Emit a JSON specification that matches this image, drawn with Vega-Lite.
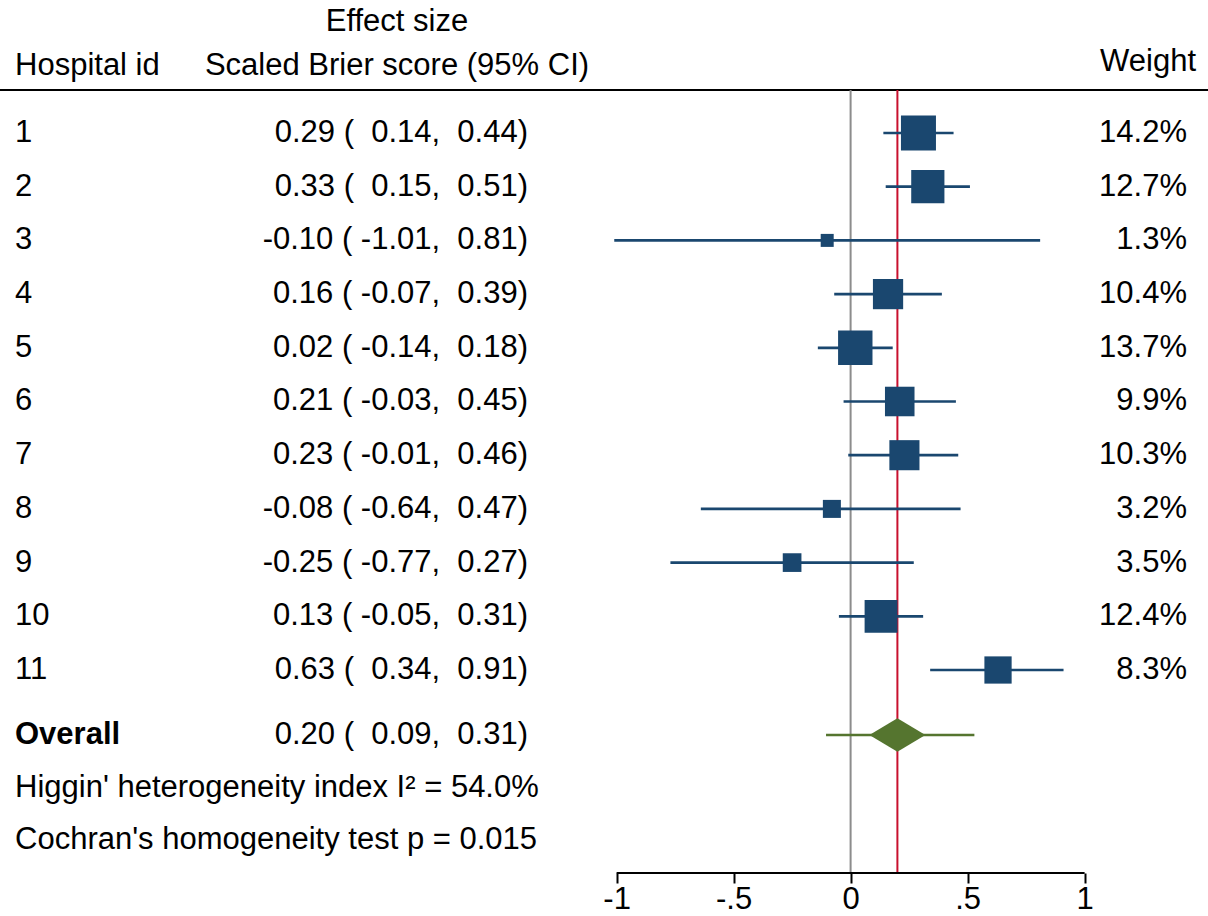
{
  "$schema": "https://vega.github.io/schema/vega-lite/v6.json",
  "autosize": {"type": "none"},
  "padding": {"left": 0, "right": 0, "top": 0, "bottom": 43},
  "width": 1208,
  "height": 873,
  "background": "white",
  "config": {
    "view": {"stroke": null},
    "font": "Liberation Sans",
    "text": {"font": "Liberation Sans", "fontSize": 31, "color": "black", "baseline": "middle"},
    "axisX": {
      "domain": false,
      "grid": false,
      "ticks": true,
      "tickColor": "black",
      "tickSize": 10,
      "tickWidth": 2,
      "labelFont": "Liberation Sans",
      "labelFontSize": 31,
      "labelColor": "black",
      "labelPadding": 1,
      "labelExpr": "datum.value == 0 ? '0' : datum.value == 1 ? '1' : datum.value == -1 ? '-1' : datum.value == 0.5 ? '.5' : '-.5'"
    }
  },
  "datasets": {
    "hospitals": [
      {"id": 1, "est": 0.29, "lo": 0.14, "hi": 0.44, "weight": 14.2, "ci": "0.29 (\u00a0 0.14,\u00a0 0.44)", "wlabel": "14.2%"},
      {"id": 2, "est": 0.33, "lo": 0.15, "hi": 0.51, "weight": 12.7, "ci": "0.33 (\u00a0 0.15,\u00a0 0.51)", "wlabel": "12.7%"},
      {"id": 3, "est": -0.10, "lo": -1.01, "hi": 0.81, "weight": 1.3, "ci": "-0.10 ( -1.01,\u00a0 0.81)", "wlabel": "1.3%"},
      {"id": 4, "est": 0.16, "lo": -0.07, "hi": 0.39, "weight": 10.4, "ci": "0.16 ( -0.07,\u00a0 0.39)", "wlabel": "10.4%"},
      {"id": 5, "est": 0.02, "lo": -0.14, "hi": 0.18, "weight": 13.7, "ci": "0.02 ( -0.14,\u00a0 0.18)", "wlabel": "13.7%"},
      {"id": 6, "est": 0.21, "lo": -0.03, "hi": 0.45, "weight": 9.9, "ci": "0.21 ( -0.03,\u00a0 0.45)", "wlabel": "9.9%"},
      {"id": 7, "est": 0.23, "lo": -0.01, "hi": 0.46, "weight": 10.3, "ci": "0.23 ( -0.01,\u00a0 0.46)", "wlabel": "10.3%"},
      {"id": 8, "est": -0.08, "lo": -0.64, "hi": 0.47, "weight": 3.2, "ci": "-0.08 ( -0.64,\u00a0 0.47)", "wlabel": "3.2%"},
      {"id": 9, "est": -0.25, "lo": -0.77, "hi": 0.27, "weight": 3.5, "ci": "-0.25 ( -0.77,\u00a0 0.27)", "wlabel": "3.5%"},
      {"id": 10, "est": 0.13, "lo": -0.05, "hi": 0.31, "weight": 12.4, "ci": "0.13 ( -0.05,\u00a0 0.31)", "wlabel": "12.4%"},
      {"id": 11, "est": 0.63, "lo": 0.34, "hi": 0.91, "weight": 8.3, "ci": "0.63 (\u00a0 0.34,\u00a0 0.91)", "wlabel": "8.3%"}
    ],
    "overall": [
      {"label": "Overall", "est": 0.20, "lo": 0.09, "hi": 0.31, "pi_lo": -0.105, "pi_hi": 0.529, "ci": "0.20 (\u00a0 0.09,\u00a0 0.31)"}
    ],
    "notes": [
      {"k": "i2", "label": "Higgin' heterogeneity index I² = 54.0%"},
      {"k": "q", "label": "Cochran's homogeneity test p = 0.015"}
    ],
    "one": [{}]
  },
  "layer": [
    {
      "data": {"name": "one"},
      "mark": {"type": "rule", "color": "black", "strokeWidth": 2},
      "encoding": {
        "x": {"datum": -3.63504, "type": "quantitative", "scale": {"domain": [-3.63504, 1.52735], "nice": false, "zero": false}, "axis": {"values": [-1, -0.5, 0, 0.5, 1], "title": null}},
        "x2": {"datum": 1.52735},
        "y": {"datum": 0.1993, "type": "quantitative", "scale": {"domain": [-1.4767, 14.7803], "nice": false, "zero": false, "reverse": true}, "axis": null}
      }
    },
    {
      "data": {"name": "one"},
      "mark": {"type": "rule", "color": "#8c8c8c", "strokeWidth": 2},
      "encoding": {
        "x": {"datum": 0, "type": "quantitative", "scale": {"domain": [-3.63504, 1.52735], "nice": false, "zero": false}, "axis": {"values": [-1, -0.5, 0, 0.5, 1], "title": null}},
        "y": {"datum": 0.1993, "type": "quantitative", "scale": {"domain": [-1.4767, 14.7803], "nice": false, "zero": false, "reverse": true}, "axis": null},
        "y2": {"datum": 14.7803}
      }
    },
    {
      "data": {"name": "overall"},
      "mark": {"type": "rule", "color": "#c8102e", "strokeWidth": 2},
      "encoding": {
        "x": {"field": "est", "type": "quantitative", "scale": {"domain": [-3.63504, 1.52735], "nice": false, "zero": false}, "axis": {"values": [-1, -0.5, 0, 0.5, 1], "title": null}},
        "y": {"datum": 0.1993, "type": "quantitative", "scale": {"domain": [-1.4767, 14.7803], "nice": false, "zero": false, "reverse": true}, "axis": null},
        "y2": {"datum": 14.7803}
      }
    },
    {
      "data": {"name": "hospitals"},
      "mark": {"type": "rule", "color": "#1a476f", "strokeWidth": 2.7},
      "encoding": {
        "x": {"field": "lo", "type": "quantitative", "scale": {"domain": [-3.63504, 1.52735], "nice": false, "zero": false}, "axis": {"values": [-1, -0.5, 0, 0.5, 1], "title": null}},
        "x2": {"field": "hi"},
        "y": {"field": "id", "type": "quantitative", "scale": {"domain": [-1.4767, 14.7803], "nice": false, "zero": false, "reverse": true}, "axis": null}
      }
    },
    {
      "data": {"name": "hospitals"},
      "mark": {"type": "square", "color": "#1a476f", "opacity": 1},
      "encoding": {
        "x": {"field": "est", "type": "quantitative", "scale": {"domain": [-3.63504, 1.52735], "nice": false, "zero": false}, "axis": {"values": [-1, -0.5, 0, 0.5, 1], "title": null}},
        "y": {"field": "id", "type": "quantitative", "scale": {"domain": [-1.4767, 14.7803], "nice": false, "zero": false, "reverse": true}, "axis": null},
        "size": {"field": "weight", "type": "quantitative", "scale": {"domain": [1.3, 14.2], "range": [169, 1225], "zero": false}, "legend": null}
      }
    },
    {
      "data": {"name": "overall"},
      "mark": {"type": "rule", "color": "#55752f", "strokeWidth": 2.7},
      "encoding": {
        "x": {"field": "pi_lo", "type": "quantitative", "scale": {"domain": [-3.63504, 1.52735], "nice": false, "zero": false}, "axis": {"values": [-1, -0.5, 0, 0.5, 1], "title": null}},
        "x2": {"field": "pi_hi"},
        "y": {"datum": 12.2104, "type": "quantitative", "scale": {"domain": [-1.4767, 14.7803], "nice": false, "zero": false, "reverse": true}, "axis": null}
      }
    },
    {
      "data": {"name": "overall"},
      "mark": {"type": "point", "shape": "M-1,0L0,-0.6L1,0L0,0.6Z", "filled": true, "opacity": 1, "color": "#55752f", "size": 3136},
      "encoding": {
        "x": {"field": "est", "type": "quantitative", "scale": {"domain": [-3.63504, 1.52735], "nice": false, "zero": false}, "axis": {"values": [-1, -0.5, 0, 0.5, 1], "title": null}},
        "y": {"datum": 12.2104, "type": "quantitative", "scale": {"domain": [-1.4767, 14.7803], "nice": false, "zero": false, "reverse": true}, "axis": null}
      }
    },
    {
      "data": {"name": "hospitals"},
      "mark": {"type": "text", "align": "left"},
      "encoding": {
        "x": {"datum": -3.5709, "type": "quantitative", "scale": {"domain": [-3.63504, 1.52735], "nice": false, "zero": false}, "axis": {"values": [-1, -0.5, 0, 0.5, 1], "title": null}},
        "y": {"field": "id", "type": "quantitative", "scale": {"domain": [-1.4767, 14.7803], "nice": false, "zero": false, "reverse": true}, "axis": null},
        "text": {"field": "id", "type": "nominal"}
      }
    },
    {
      "data": {"name": "hospitals"},
      "mark": {"type": "text", "align": "right"},
      "encoding": {
        "x": {"datum": -1.3786, "type": "quantitative", "scale": {"domain": [-3.63504, 1.52735], "nice": false, "zero": false}, "axis": {"values": [-1, -0.5, 0, 0.5, 1], "title": null}},
        "y": {"field": "id", "type": "quantitative", "scale": {"domain": [-1.4767, 14.7803], "nice": false, "zero": false, "reverse": true}, "axis": null},
        "text": {"field": "ci", "type": "nominal"}
      }
    },
    {
      "data": {"name": "hospitals"},
      "mark": {"type": "text", "align": "right"},
      "encoding": {
        "x": {"datum": 1.4376, "type": "quantitative", "scale": {"domain": [-3.63504, 1.52735], "nice": false, "zero": false}, "axis": {"values": [-1, -0.5, 0, 0.5, 1], "title": null}},
        "y": {"field": "id", "type": "quantitative", "scale": {"domain": [-1.4767, 14.7803], "nice": false, "zero": false, "reverse": true}, "axis": null},
        "text": {"field": "wlabel", "type": "nominal"}
      }
    },
    {
      "data": {"name": "overall"},
      "mark": {"type": "text", "align": "left", "fontWeight": "bold"},
      "encoding": {
        "x": {"datum": -3.5709, "type": "quantitative", "scale": {"domain": [-3.63504, 1.52735], "nice": false, "zero": false}, "axis": {"values": [-1, -0.5, 0, 0.5, 1], "title": null}},
        "y": {"datum": 12.2104, "type": "quantitative", "scale": {"domain": [-1.4767, 14.7803], "nice": false, "zero": false, "reverse": true}, "axis": null},
        "text": {"field": "label", "type": "nominal"}
      }
    },
    {
      "data": {"name": "overall"},
      "mark": {"type": "text", "align": "right"},
      "encoding": {
        "x": {"datum": -1.3786, "type": "quantitative", "scale": {"domain": [-3.63504, 1.52735], "nice": false, "zero": false}, "axis": {"values": [-1, -0.5, 0, 0.5, 1], "title": null}},
        "y": {"datum": 12.2104, "type": "quantitative", "scale": {"domain": [-1.4767, 14.7803], "nice": false, "zero": false, "reverse": true}, "axis": null},
        "text": {"field": "ci", "type": "nominal"}
      }
    },
    {
      "data": {"name": "notes"},
      "transform": [{"filter": "datum.k == 'i2'"}],
      "mark": {"type": "text", "align": "left"},
      "encoding": {
        "x": {"datum": -3.5709, "type": "quantitative", "scale": {"domain": [-3.63504, 1.52735], "nice": false, "zero": false}, "axis": {"values": [-1, -0.5, 0, 0.5, 1], "title": null}},
        "y": {"datum": 13.1974, "type": "quantitative", "scale": {"domain": [-1.4767, 14.7803], "nice": false, "zero": false, "reverse": true}, "axis": null},
        "text": {"field": "label", "type": "nominal"}
      }
    },
    {
      "data": {"name": "notes"},
      "transform": [{"filter": "datum.k == 'q'"}],
      "mark": {"type": "text", "align": "left"},
      "encoding": {
        "x": {"datum": -3.5709, "type": "quantitative", "scale": {"domain": [-3.63504, 1.52735], "nice": false, "zero": false}, "axis": {"values": [-1, -0.5, 0, 0.5, 1], "title": null}},
        "y": {"datum": 14.1657, "type": "quantitative", "scale": {"domain": [-1.4767, 14.7803], "nice": false, "zero": false, "reverse": true}, "axis": null},
        "text": {"field": "label", "type": "nominal"}
      }
    },
    {
      "data": {"name": "one"},
      "mark": {"type": "text", "align": "left"},
      "encoding": {
        "x": {"datum": -3.5709, "type": "quantitative", "scale": {"domain": [-3.63504, 1.52735], "nice": false, "zero": false}, "axis": {"values": [-1, -0.5, 0, 0.5, 1], "title": null}},
        "y": {"datum": -0.2477, "type": "quantitative", "scale": {"domain": [-1.4767, 14.7803], "nice": false, "zero": false, "reverse": true}, "axis": null},
        "text": {"value": "Hospital id"}
      }
    },
    {
      "data": {"name": "one"},
      "mark": {"type": "text", "align": "center"},
      "encoding": {
        "x": {"datum": -1.9385, "type": "quantitative", "scale": {"domain": [-3.63504, 1.52735], "nice": false, "zero": false}, "axis": {"values": [-1, -0.5, 0, 0.5, 1], "title": null}},
        "y": {"datum": -0.2477, "type": "quantitative", "scale": {"domain": [-1.4767, 14.7803], "nice": false, "zero": false, "reverse": true}, "axis": null},
        "text": {"value": "Scaled Brier score (95% CI)"}
      }
    },
    {
      "data": {"name": "one"},
      "mark": {"type": "text", "align": "center"},
      "encoding": {
        "x": {"datum": -1.9385, "type": "quantitative", "scale": {"domain": [-3.63504, 1.52735], "nice": false, "zero": false}, "axis": {"values": [-1, -0.5, 0, 0.5, 1], "title": null}},
        "y": {"datum": -1.067, "type": "quantitative", "scale": {"domain": [-1.4767, 14.7803], "nice": false, "zero": false, "reverse": true}, "axis": null},
        "text": {"value": "Effect size"}
      }
    },
    {
      "data": {"name": "one"},
      "mark": {"type": "text", "align": "right"},
      "encoding": {
        "x": {"datum": 1.4761, "type": "quantitative", "scale": {"domain": [-3.63504, 1.52735], "nice": false, "zero": false}, "axis": {"values": [-1, -0.5, 0, 0.5, 1], "title": null}},
        "y": {"datum": -0.3222, "type": "quantitative", "scale": {"domain": [-1.4767, 14.7803], "nice": false, "zero": false, "reverse": true}, "axis": null},
        "text": {"value": "Weight"}
      }
    },
    {
      "data": {"name": "one"},
      "mark": {"type": "rule", "color": "black", "strokeWidth": 2},
      "encoding": {
        "x": {"datum": -1, "type": "quantitative", "scale": {"domain": [-3.63504, 1.52735], "nice": false, "zero": false}, "axis": {"values": [-1, -0.5, 0, 0.5, 1], "title": null}},
        "x2": {"datum": 1},
        "y": {"datum": 14.7803, "type": "quantitative", "scale": {"domain": [-1.4767, 14.7803], "nice": false, "zero": false, "reverse": true}, "axis": null}
      }
    }
  ]
}
